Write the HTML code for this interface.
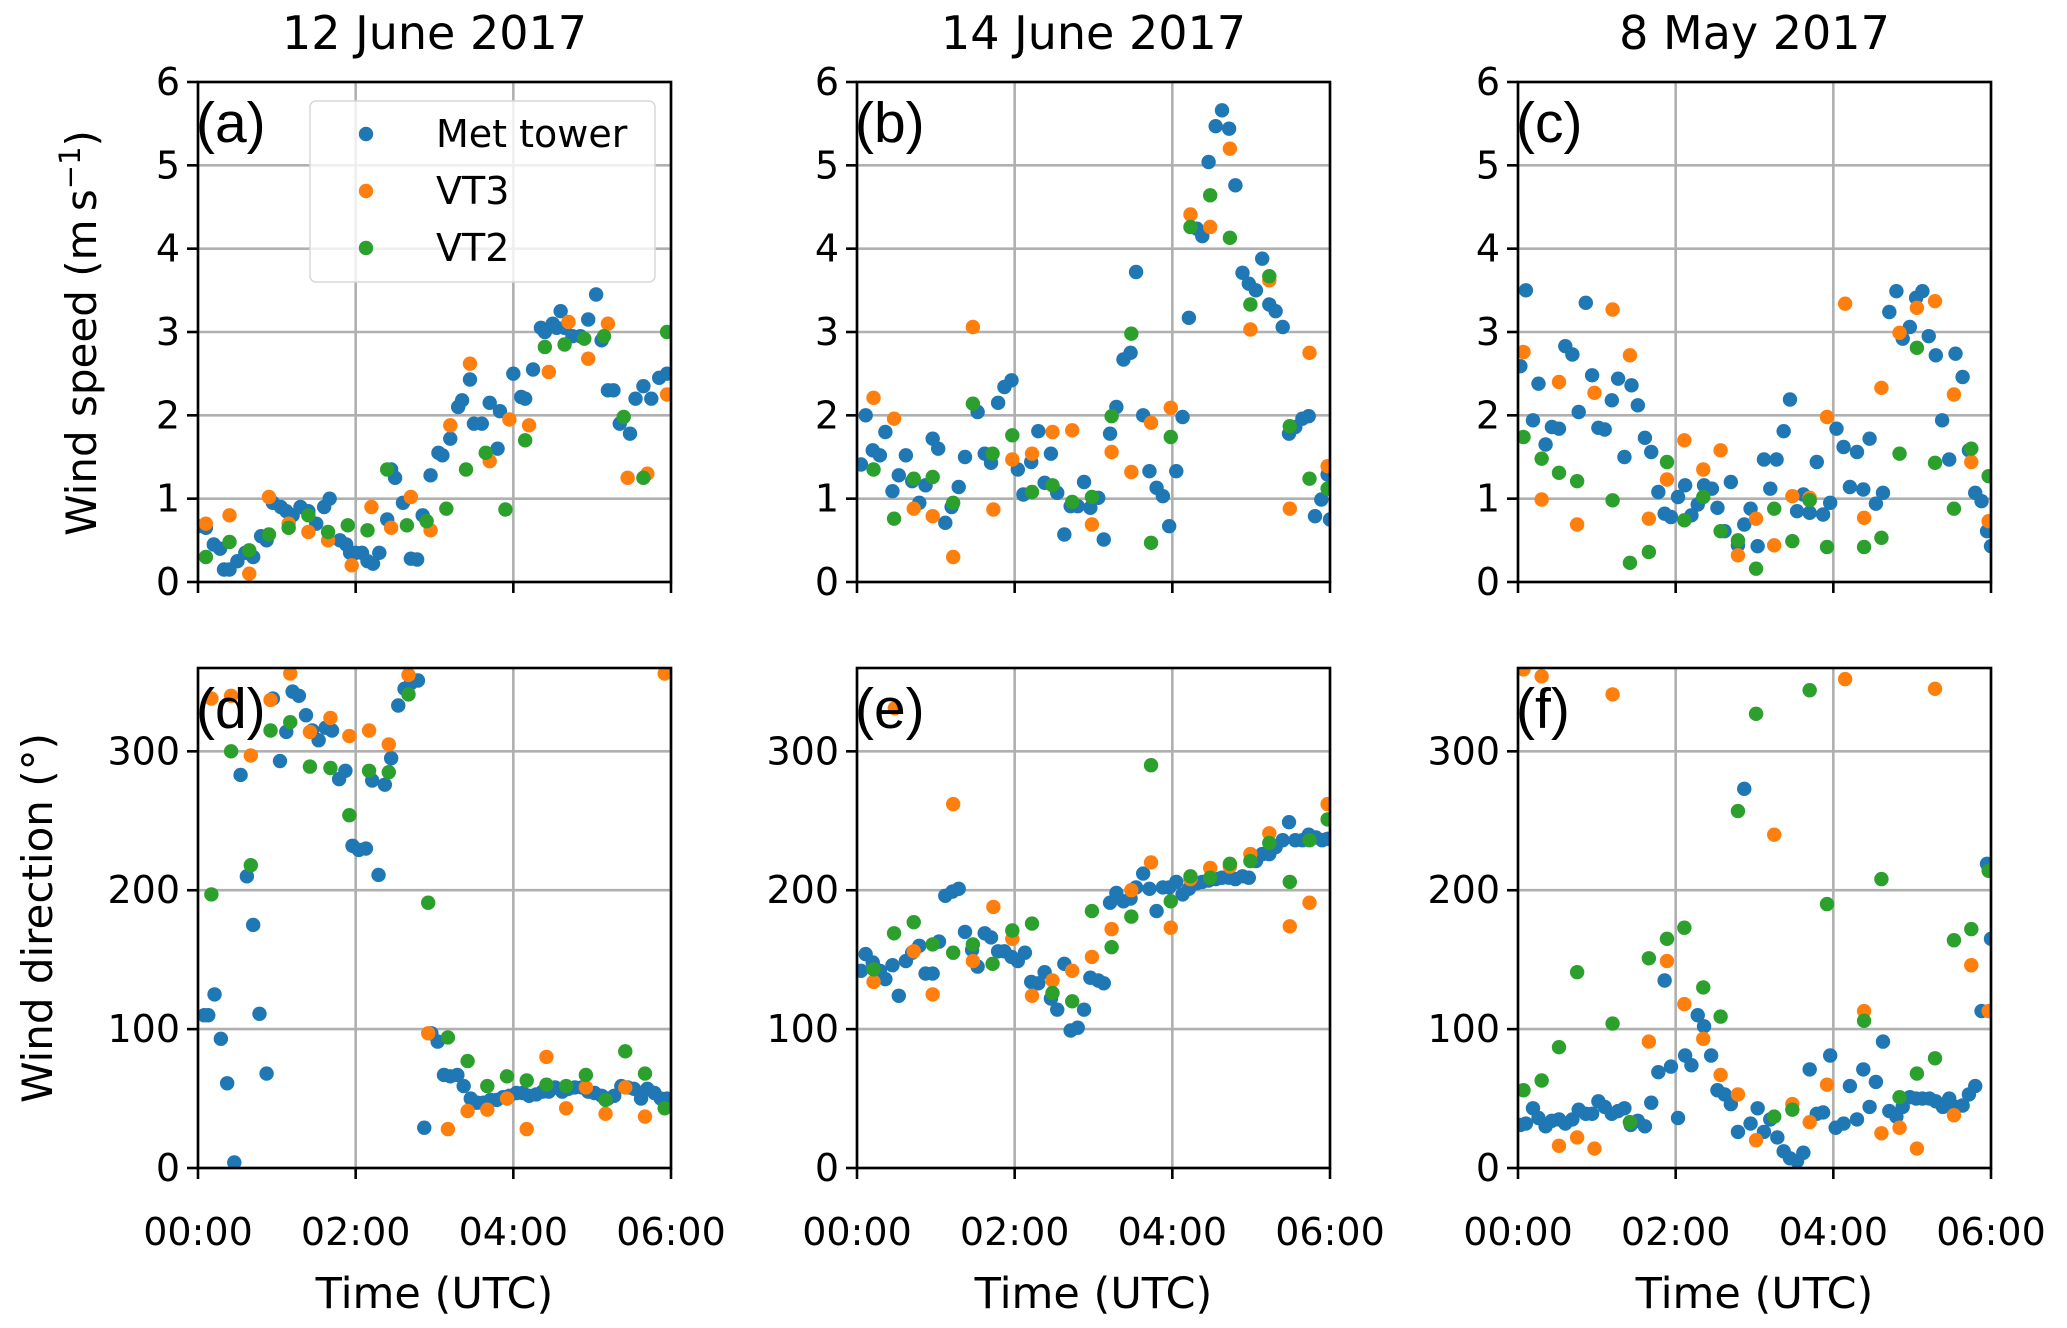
<!DOCTYPE html>
<html><head><meta charset="utf-8">
<style>
html,body{margin:0;padding:0;background:#fff;}
svg{display:block;}
text{font-family:"DejaVu Sans","Liberation Sans",sans-serif;fill:#000;}
.lbl{font-family:"Liberation Sans",sans-serif;}
</style></head>
<body>
<svg id="fig" width="2067" height="1328" viewBox="0 0 2067 1328" xmlns="http://www.w3.org/2000/svg"></svg>
<script>
// ---- data: [hour, value] ----
const seriesNames = ["Met tower","VT3","VT2"];
const seriesColors = ["#1f77b4","#ff7f0e","#2ca02c"];
const panelTitles = ["12 June 2017","14 June 2017","8 May 2017"];
const panelLetters = ["(a)","(b)","(c)","(d)","(e)","(f)"];
const speedTicks = [0,1,2,3,4,5,6];
const dirTicks = [0,100,200,300];
const timeTicks = [0,2,4,6];
const timeTickLabels = ["00:00","02:00","04:00","06:00"];

const aMet = [[0,0.67],[0.1,0.65],[0.2,0.45],[0.28,0.4],[0.33,0.15],[0.4,0.15],[0.5,0.25],[0.6,0.35],[0.7,0.3],[0.8,0.55],[0.87,0.5],[0.95,0.95],[1.05,0.9],[1.12,0.85],[1.2,0.8],[1.3,0.9],[1.4,0.85],[1.5,0.7],[1.6,0.9],[1.67,1.0],[1.8,0.5],[1.88,0.45],[1.93,0.35],[2.0,0.35],[2.08,0.35],[2.15,0.25],[2.22,0.22],[2.3,0.35],[2.4,0.75],[2.45,1.35],[2.5,1.25],[2.6,0.95],[2.7,0.28],[2.78,0.27],[2.85,0.8],[2.95,1.28],[3.05,1.55],[3.1,1.52],[3.2,1.72],[3.3,2.1],[3.35,2.18],[3.45,2.43],[3.5,1.9],[3.6,1.9],[3.7,2.15],[3.8,1.6],[3.83,2.05],[4.0,2.5],[4.1,2.22],[4.15,2.2],[4.25,2.55],[4.35,3.05],[4.4,3.0],[4.5,3.1],[4.55,3.05],[4.6,3.25],[4.65,3.05],[4.75,2.95],[4.85,2.95],[4.95,3.15],[5.05,3.45],[5.12,2.9],[5.2,2.3],[5.27,2.3],[5.35,1.9],[5.48,1.78],[5.55,2.2],[5.65,2.35],[5.75,2.2],[5.85,2.45],[5.95,2.5]];
const aVT3 = [[0.1,0.7],[0.4,0.8],[0.65,0.1],[0.9,1.02],[1.15,0.7],[1.4,0.6],[1.65,0.5],[1.95,0.2],[2.2,0.9],[2.45,0.65],[2.7,1.02],[2.95,0.62],[3.2,1.88],[3.45,2.62],[3.7,1.45],[3.95,1.95],[4.2,1.88],[4.45,2.52],[4.7,3.12],[4.95,2.68],[5.2,3.1],[5.45,1.25],[5.7,1.3],[5.95,2.25]];
const aVT2 = [[0.1,0.3],[0.4,0.48],[0.65,0.38],[0.9,0.57],[1.15,0.65],[1.4,0.8],[1.65,0.6],[1.9,0.68],[2.15,0.62],[2.4,1.35],[2.65,0.68],[2.9,0.73],[3.15,0.88],[3.4,1.35],[3.65,1.55],[3.9,0.87],[4.15,1.7],[4.4,2.82],[4.65,2.85],[4.9,2.92],[5.15,2.95],[5.4,1.98],[5.65,1.25],[5.95,3.0]];

const bMet = [[0.05,1.41],[0.11,2.0],[0.2,1.58],[0.29,1.52],[0.36,1.8],[0.45,1.09],[0.53,1.28],[0.62,1.52],[0.7,1.21],[0.79,0.95],[0.87,1.16],[0.96,1.72],[1.03,1.6],[1.12,0.71],[1.2,0.9],[1.29,1.14],[1.37,1.5],[1.53,2.04],[1.62,1.54],[1.7,1.43],[1.79,2.15],[1.87,2.34],[1.96,2.42],[2.04,1.35],[2.11,1.05],[2.21,1.44],[2.3,1.81],[2.38,1.19],[2.46,1.54],[2.54,1.07],[2.63,0.57],[2.71,0.91],[2.8,0.91],[2.88,1.2],[2.96,0.89],[3.06,1.01],[3.13,0.51],[3.21,1.78],[3.29,2.1],[3.38,2.67],[3.47,2.75],[3.54,3.72],[3.63,2.0],[3.71,1.33],[3.8,1.13],[3.88,1.03],[3.96,0.67],[4.05,1.33],[4.13,1.98],[4.21,3.17],[4.31,4.24],[4.38,4.15],[4.46,5.04],[4.55,5.47],[4.63,5.66],[4.72,5.44],[4.8,4.76],[4.89,3.71],[4.97,3.58],[5.06,3.5],[5.14,3.88],[5.23,3.33],[5.31,3.25],[5.4,3.06],[5.48,1.78],[5.56,1.86],[5.65,1.96],[5.73,1.99],[5.81,0.79],[5.89,0.99],[5.97,1.29],[6.0,0.75]];
const bVT3 = [[0.21,2.21],[0.47,1.96],[0.72,0.88],[0.96,0.79],[1.22,0.3],[1.47,3.06],[1.73,0.87],[1.97,1.47],[2.22,1.54],[2.48,1.8],[2.73,1.82],[2.98,0.69],[3.23,1.56],[3.48,1.32],[3.73,1.91],[3.98,2.09],[4.23,4.41],[4.48,4.26],[4.73,5.2],[4.99,3.03],[5.23,3.62],[5.49,0.88],[5.74,2.75],[5.97,1.39]];
const bVT2 = [[0.21,1.35],[0.47,0.76],[0.72,1.24],[0.96,1.26],[1.22,0.95],[1.47,2.14],[1.72,1.54],[1.97,1.76],[2.22,1.08],[2.48,1.16],[2.73,0.96],[2.98,1.02],[3.23,1.99],[3.48,2.98],[3.73,0.47],[3.98,1.74],[4.23,4.26],[4.48,4.64],[4.73,4.13],[4.99,3.33],[5.23,3.67],[5.49,1.87],[5.74,1.24],[5.97,1.12]];

const cMet = [[0.03,2.59],[0.1,3.5],[0.19,1.94],[0.26,2.38],[0.35,1.65],[0.43,1.86],[0.52,1.84],[0.6,2.83],[0.69,2.73],[0.77,2.04],[0.86,3.35],[0.94,2.48],[1.02,1.85],[1.1,1.83],[1.19,2.18],[1.27,2.44],[1.35,1.5],[1.44,2.36],[1.52,2.12],[1.61,1.73],[1.69,1.56],[1.78,1.08],[1.86,0.82],[1.94,0.78],[2.03,1.02],[2.12,1.16],[2.2,0.8],[2.28,0.93],[2.36,1.16],[2.46,1.12],[2.53,0.89],[2.62,0.61],[2.7,1.2],[2.79,0.44],[2.87,0.69],[2.95,0.88],[3.04,0.43],[3.12,1.47],[3.2,1.12],[3.28,1.47],[3.37,1.81],[3.45,2.19],[3.54,0.85],[3.62,1.05],[3.7,0.83],[3.79,1.44],[3.87,0.81],[3.96,0.95],[4.04,1.84],[4.13,1.62],[4.21,1.14],[4.3,1.56],[4.38,1.11],[4.46,1.72],[4.54,0.94],[4.63,1.07],[4.71,3.24],[4.8,3.49],[4.88,2.92],[4.97,3.06],[5.05,3.41],[5.13,3.49],[5.21,2.95],[5.3,2.72],[5.38,1.94],[5.47,1.47],[5.55,2.74],[5.64,2.46],[5.72,1.58],[5.8,1.07],[5.88,0.97],[5.95,0.61],[6.0,0.43]];
const cVT3 = [[0.07,2.76],[0.3,0.99],[0.52,2.4],[0.75,0.69],[0.97,2.27],[1.2,3.27],[1.42,2.72],[1.66,0.76],[1.89,1.23],[2.11,1.7],[2.35,1.35],[2.57,1.58],[2.79,0.32],[3.02,0.76],[3.25,0.44],[3.48,1.03],[3.7,1.01],[3.92,1.98],[4.15,3.34],[4.39,0.77],[4.61,2.33],[4.84,2.99],[5.06,3.29],[5.29,3.37],[5.53,2.25],[5.75,1.44],[5.97,0.73]];
const cVT2 = [[0.07,1.74],[0.3,1.48],[0.52,1.31],[0.75,1.21],[1.2,0.98],[1.42,0.23],[1.66,0.36],[1.89,1.44],[2.11,0.74],[2.35,1.02],[2.57,0.61],[2.79,0.5],[3.02,0.16],[3.25,0.88],[3.48,0.49],[3.7,0.98],[3.92,0.42],[4.39,0.42],[4.61,0.53],[4.84,1.54],[5.06,2.81],[5.29,1.43],[5.53,0.88],[5.75,1.6],[5.97,1.27]];

const dMet = [[0.08,110],[0.13,110],[0.21,125],[0.29,93],[0.37,61],[0.46,4],[0.54,283],[0.62,210],[0.7,175],[0.78,111],[0.87,68],[0.95,338],[1.04,293],[1.12,314],[1.2,343],[1.28,340],[1.37,326],[1.45,315],[1.53,308],[1.62,317],[1.7,315],[1.79,280],[1.87,286],[1.96,232],[2.04,229],[2.13,230],[2.21,279],[2.29,211],[2.37,276],[2.45,295],[2.54,333],[2.62,345],[2.7,349],[2.79,351],[2.87,29],[2.96,97],[3.04,91],[3.12,67],[3.2,66],[3.29,67],[3.37,59],[3.46,50],[3.54,47],[3.62,47],[3.71,49],[3.79,49],[3.87,51],[3.95,52],[4.04,54],[4.12,54],[4.2,52],[4.29,53],[4.37,55],[4.45,55],[4.53,58],[4.62,55],[4.7,57],[4.78,58],[4.87,58],[4.95,55],[5.03,54],[5.12,52],[5.2,50],[5.28,52],[5.37,59],[5.45,58],[5.53,57],[5.62,50],[5.7,57],[5.79,54],[5.87,50],[5.95,50]];
const dVT3 = [[0.17,338],[0.42,340],[0.67,297],[0.92,337],[1.17,356],[1.42,314],[1.68,324],[1.92,311],[2.17,315],[2.42,305],[2.67,355],[2.92,97],[3.17,28],[3.42,41],[3.67,42],[3.92,50],[4.17,28],[4.42,80],[4.67,43],[4.92,58],[5.17,39],[5.42,58],[5.67,37],[5.92,356]];
const dVT2 = [[0.17,197],[0.42,300],[0.67,218],[0.92,315],[1.17,321],[1.42,289],[1.68,288],[1.92,254],[2.17,286],[2.42,285],[2.67,341],[2.92,191],[3.17,94],[3.42,77],[3.67,59],[3.92,66],[4.17,63],[4.42,60],[4.67,59],[4.92,67],[5.17,49],[5.42,84],[5.67,68],[5.92,43]];

const eMet = [[0.05,142],[0.11,154],[0.2,148],[0.29,142],[0.36,136],[0.45,146],[0.53,124],[0.62,149],[0.7,155],[0.79,160],[0.87,140],[0.96,140],[1.04,163],[1.12,196],[1.21,199],[1.29,201],[1.37,170],[1.46,157],[1.53,145],[1.62,169],[1.7,166],[1.79,156],[1.87,156],[1.96,152],[2.04,149],[2.13,155],[2.21,134],[2.3,133],[2.38,141],[2.46,122],[2.54,114],[2.63,147],[2.71,99],[2.8,101],[2.88,114],[2.96,137],[3.06,135],[3.13,133],[3.21,191],[3.29,198],[3.38,192],[3.47,194],[3.54,202],[3.63,212],[3.71,201],[3.8,185],[3.88,202],[3.96,202],[4.05,206],[4.13,197],[4.21,201],[4.31,205],[4.38,206],[4.46,207],[4.55,208],[4.63,209],[4.72,209],[4.8,208],[4.89,210],[4.97,209],[5.06,221],[5.14,226],[5.23,226],[5.31,231],[5.4,236],[5.48,249],[5.56,236],[5.65,236],[5.73,240],[5.82,238],[5.9,236],[5.97,237]];
const eVT3 = [[0.21,134],[0.48,331],[0.72,156],[0.96,125],[1.22,262],[1.47,149],[1.73,188],[1.97,165],[2.22,124],[2.48,135],[2.73,142],[2.98,152],[3.23,172],[3.48,200],[3.73,220],[3.98,173],[4.23,208],[4.48,216],[4.73,217],[4.99,226],[5.23,241],[5.49,174],[5.74,191],[5.97,262]];
const eVT2 = [[0.21,143],[0.47,169],[0.72,177],[0.96,161],[1.22,155],[1.47,161],[1.72,147],[1.97,171],[2.22,176],[2.48,126],[2.73,120],[2.98,185],[3.23,159],[3.48,181],[3.73,290],[3.98,192],[4.23,210],[4.48,209],[4.73,219],[4.99,221],[5.23,234],[5.49,206],[5.74,236],[5.97,251]];

const fMet = [[0.03,31],[0.1,32],[0.19,43],[0.26,36],[0.35,30],[0.43,34],[0.52,35],[0.6,32],[0.69,35],[0.77,42],[0.86,39],[0.94,39],[1.02,48],[1.1,44],[1.19,39],[1.27,41],[1.35,43],[1.43,31],[1.52,34],[1.61,30],[1.69,47],[1.78,69],[1.86,135],[1.94,73],[2.03,36],[2.12,81],[2.2,74],[2.28,110],[2.36,102],[2.45,81],[2.53,56],[2.62,53],[2.7,46],[2.79,26],[2.87,273],[2.95,32],[3.04,43],[3.12,26],[3.2,35],[3.29,22],[3.37,12],[3.45,7],[3.54,5],[3.62,11],[3.7,71],[3.79,39],[3.87,40],[3.96,81],[4.03,29],[4.13,32],[4.21,59],[4.3,35],[4.38,71],[4.46,44],[4.54,62],[4.63,91],[4.71,41],[4.8,37],[4.88,44],[4.97,51],[5.05,50],[5.13,50],[5.22,50],[5.3,48],[5.39,44],[5.47,50],[5.56,44],[5.64,45],[5.72,53],[5.8,59],[5.88,113],[5.95,219],[6.0,165]];
const fVT3 = [[0.07,359],[0.3,354],[0.52,16],[0.75,22],[0.97,14],[1.2,341],[1.42,33],[1.66,91],[1.89,149],[2.11,118],[2.35,93],[2.57,67],[2.79,53],[3.02,20],[3.25,240],[3.48,46],[3.7,33],[3.92,60],[4.15,352],[4.39,113],[4.61,25],[4.84,29],[5.06,14],[5.29,345],[5.53,38],[5.75,146],[5.97,113]];
const fVT2 = [[0.07,56],[0.3,63],[0.52,87],[0.75,141],[1.2,104],[1.42,33],[1.66,151],[1.89,165],[2.11,173],[2.35,130],[2.57,109],[2.79,257],[3.02,327],[3.25,37],[3.48,42],[3.7,344],[3.92,190],[4.39,106],[4.61,208],[4.84,51],[5.06,68],[5.29,79],[5.53,164],[5.75,172],[5.97,214]];

const panelSeries = [[aMet,aVT3,aVT2],[bMet,bVT3,bVT2],[cMet,cVT3,cVT2],[dMet,dVT3,dVT2],[eMet,eVT3,eVT2],[fMet,fVT3,fVT2]];

// ---- drawing ----
const NS = "http://www.w3.org/2000/svg";
const svg = document.getElementById("fig");
function mk(tag, attrs, parent){
  const e = document.createElementNS(NS, tag);
  for (const k in attrs) e.setAttribute(k, attrs[k]);
  (parent||svg).appendChild(e);
  return e;
}
const lefts = [198, 857, 1518];
const W = 473;
const tops = [82, 668];
const H = 500;

for (let p = 0; p < 6; p++){
  const col = p % 3, row = Math.floor(p/3);
  const x0 = lefts[col], y0 = tops[row];
  const ymax = row === 0 ? 6 : 360;
  const yt = row === 0 ? speedTicks : dirTicks;
  const xs = h => x0 + h/6*W;
  const ys = v => y0 + H - v/ymax*H;
  const g = mk("g", {});
  
  
  const clipId = "clip" + p;
  const cp = mk("clipPath", {id: clipId}, g);
  mk("rect", {x: x0, y: y0, width: W, height: H}, cp);
  const grid = mk("g", {stroke: "#b0b0b0", "stroke-width": 2.6}, g);
  
  
  timeTicks.forEach(t => mk("line", {x1: xs(t), x2: xs(t), y1: y0, y2: y0+H}, grid));
  yt.forEach(v => mk("line", {x1: x0, x2: x0+W, y1: ys(v), y2: ys(v)}, grid));
  const pts = mk("g", {"clip-path": "url(#" + clipId + ")"}, g);
  panelSeries[p].forEach((ser, si) => {
    const sg = mk("g", {fill: seriesColors[si]}, pts);
    
    
    ser.forEach(d => {
      const c = mk("circle", {cx: xs(d[0]), cy: ys(d[1]), r: 7.2}, sg);
      
      
    });
  });
  const sp = mk("rect", {x: x0, y: y0, width: W, height: H, fill: "none", stroke: "#000", "stroke-width": 2.6}, g);
  
  
  timeTicks.forEach((t, i) => {
    mk("line", {x1: xs(t), x2: xs(t), y1: y0+H, y2: y0+H+11, stroke: "#000", "stroke-width": 2.6}, g);
    if (row === 1){
      const tl = mk("text", {x: xs(t), y: y0+H+77, "font-size": 38, "text-anchor": "middle"}, g);
      tl.textContent = timeTickLabels[i];
      
      
    }
  });
  yt.forEach(v => {
    mk("line", {x1: x0-11, x2: x0, y1: ys(v), y2: ys(v), stroke: "#000", "stroke-width": 2.6}, g);
    const tl = mk("text", {x: x0-18, y: ys(v)+13, "font-size": 38, "text-anchor": "end"}, g);
    tl.textContent = String(v);
    
    
  });
  const pl = mk("text", {x: x0-2, y: y0+60, "font-size": 57, "class": "lbl"}, g);
  pl.textContent = panelLetters[p];
  
  
  if (row === 0){
    const tt = mk("text", {x: x0+W/2, y: 49, "font-size": 46, "text-anchor": "middle"}, g);
    tt.textContent = panelTitles[col];
    
    
  } else {
    const xl = mk("text", {x: x0+W/2, y: 1308, "font-size": 43, "text-anchor": "middle"}, g);
    xl.textContent = "Time (UTC)";
    
    
  }
}
const yl1 = mk("text", {transform: "translate(96,333) rotate(-90)", "font-size": 42, "text-anchor": "middle"});
yl1.innerHTML = 'Wind speed (m\u2009s<tspan dy="-16" font-size="29">\u22121</tspan><tspan dy="16">)</tspan>';


const yl2 = mk("text", {transform: "translate(52,918) rotate(-90)", "font-size": 42, "text-anchor": "middle"});
yl2.textContent = "Wind direction (\u00b0)";



const lg = mk("g", {});


mk("rect", {x: 310, y: 101, width: 345, height: 181, rx: 6, fill: "#fff", "fill-opacity": 0.8, stroke: "#d8d8d8", "stroke-width": 1.5}, lg);
seriesNames.forEach((n, i) => {
  const e = mk("g", {}, lg);
  
  
  mk("circle", {cx: 366, cy: 134 + i*57, r: 7.2, fill: seriesColors[i]}, e);
  const t = mk("text", {x: 436, y: 147 + i*57, "font-size": 38}, e);
  t.textContent = n;
});
</script>
</body></html>
